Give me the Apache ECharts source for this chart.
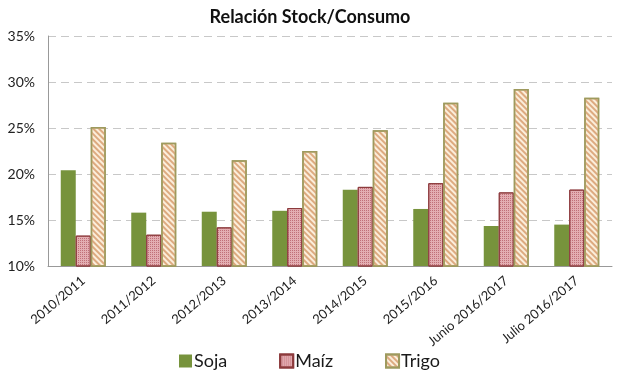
<!DOCTYPE html>
<html><head><meta charset="utf-8">
<script src="https://cdn.jsdelivr.net/npm/echarts@6/dist/echarts.min.js"></script>
<style>html,body{margin:0;padding:0;background:#fff}#c{width:620px;height:375px}</style>
</head><body><div id="c"></div>
<script>
const categories = ["2010/2011","2011/2012","2012/2013","2013/2014","2014/2015","2015/2016","Junio 2016/2017","Julio 2016/2017"];
const soja = [20.4, 15.8, 15.9, 16.0, 18.3, 16.2, 14.35, 14.5];
const maiz = [13.3, 13.4, 14.2, 16.3, 18.6, 19.0, 18.0, 18.3];
const trigo = [25.1, 23.4, 21.5, 22.5, 24.75, 27.75, 29.25, 28.3];
const yTicks = [10, 15, 20, 25, 30, 35];

const font = 'Lato, "Open Sans", sans-serif';
const chart = echarts.init(document.getElementById('c'), null, {renderer:'canvas'});
chart.setOption({
  animation:false,
  backgroundColor:'#fff',
  title:{text:'Relación Stock/Consumo', left:'center', top:3,
    textStyle:{fontFamily:font, fontWeight:'bold', fontSize:18, color:'#111'}},
  legend:{top:347, left:174, icon:'rect', itemWidth:13, itemHeight:13, itemGap:52,
    textStyle:{fontFamily:font, fontSize:18, color:'#1a1a1a', padding:[0,0,0,-3]}},
  grid:{left:48, right:8, top:36, bottom:109},
  xAxis:{type:'category', data:categories,
    axisLine:{lineStyle:{color:'#999'}}, axisTick:{show:false},
    axisLabel:{interval:0, rotate:40, fontFamily:font, fontSize:13, color:'#222', margin:13}},
  yAxis:{type:'value', min:yTicks[0], max:yTicks[yTicks.length-1], interval:5,
    axisLine:{show:true, lineStyle:{color:'#999'}}, axisTick:{show:false},
    axisLabel:{formatter:'{value}%', fontFamily:font, fontSize:14, color:'#222', margin:13},
    splitLine:{lineStyle:{color:'#c8c8c8', type:[8,5]}}},
  series:[
    {name:'Soja', type:'bar', data:soja, barWidth:15, barGap:'0%',
      itemStyle:{color:'#77933C'}},
    {name:'Maíz', type:'bar', data:maiz, barWidth:15,
      itemStyle:{color:'#E3AEB2', borderColor:'#8C3A3C', borderWidth:1,
        decal:{symbol:'rect', color:'#C07078', dashArrayX:[[1,1]], dashArrayY:[1,1], symbolSize:1}}},
    {name:'Trigo', type:'bar', data:trigo, barWidth:15,
      itemStyle:{color:'#FBEEDB', borderColor:'#9E9A5E', borderWidth:1.5,
        decal:{symbol:'rect', color:'#DDAA80', dashArrayX:[[1,0]], dashArrayY:[2,2], rotation:Math.PI/4}}}
  ]
});
</script></body></html>
